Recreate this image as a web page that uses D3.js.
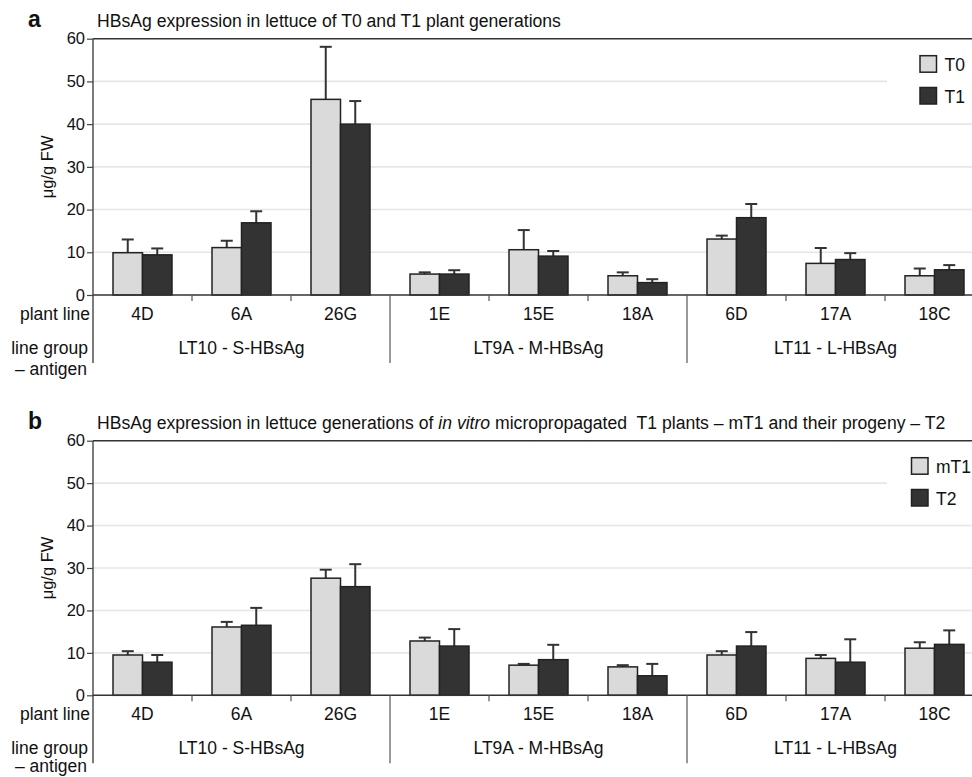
<!DOCTYPE html>
<html>
<head>
<meta charset="utf-8">
<script src="https://cdn.jsdelivr.net/npm/d3@7/dist/d3.min.js"></script>
<style>
  html, body { margin: 0; padding: 0; background: #fff; }
  svg { display: block; font-family: "Liberation Sans", Arial, sans-serif; }
</style>
</head>
<body>
<svg id="chart" width="972" height="777"></svg>
<script>
// ---------- DATA ----------
const plantLines = ["4D", "6A", "26G", "1E", "15E", "18A", "6D", "17A", "18C"];
const lineGroupOf = ["LT10 - S-HBsAg", "LT10 - S-HBsAg", "LT10 - S-HBsAg",
                     "LT9A - M-HBsAg", "LT9A - M-HBsAg", "LT9A - M-HBsAg",
                     "LT11 - L-HBsAg", "LT11 - L-HBsAg", "LT11 - L-HBsAg"];
const yTicks = [0, 10, 20, 30, 40, 50, 60];

// Panel a
const seriesA = ["T0", "T1"];
const t0Values = [9.9, 11.1, 45.8, 4.9, 10.6, 4.5, 13.1, 7.4, 4.5];
const t0Errors = [3.1, 1.6, 12.3, 0.4, 4.6, 0.8, 0.8, 3.6, 1.7];
const t1Values = [9.4, 16.9, 40.0, 4.9, 9.1, 2.9, 18.1, 8.3, 5.9];
const t1Errors = [1.5, 2.7, 5.4, 0.9, 1.2, 0.8, 3.2, 1.5, 1.1];

// Panel b
const seriesB = ["mT1", "T2"];
const mT1Values = [9.5, 16.1, 27.6, 12.8, 7.1, 6.7, 9.5, 8.7, 11.1];
const mT1Errors = [0.9, 1.2, 2.0, 0.8, 0.3, 0.4, 0.9, 0.8, 1.4];
const t2Values  = [7.8, 16.5, 25.6, 11.6, 8.4, 4.6, 11.6, 7.8, 12.0];
const t2Errors  = [1.7, 4.1, 5.3, 4.0, 3.5, 2.8, 3.3, 5.4, 3.3];

const seriesColors = ["#dadada", "#333333"];

// ---------- DRAW ----------
const svg = d3.select("#chart");
const left = 93, right = 984;

function drawPanel(opts) {
  const { top, bottom, letter, titleParts, series, values, errors } = opts;
  const g = svg.append("g");

  const x = d3.scaleBand().domain(plantLines).range([left, right]).paddingInner(0).paddingOuter(0);
  const pad = 20;
  const xs = d3.scaleBand().domain(series).range([pad, x.bandwidth() - pad]).padding(0);
  const y = d3.scaleLinear().domain([0, 60]).range([bottom, top]);

  // letter + title
  g.append("text").attr("x", 28).attr("y", top - 11.5)
    .attr("font-size", 23).attr("font-weight", "bold").attr("fill", "#111").text(letter);
  const title = g.append("text").attr("x", 97).attr("y", top - 11.5)
    .attr("font-size", 17.6).attr("fill", "#111");
  titleParts.forEach(p => {
    title.append("tspan").attr("font-style", p.italic ? "italic" : "normal").text(p.text);
  });

  // gridlines
  g.append("g").selectAll("line").data(yTicks.filter(t => t > 0 && t < 60)).join("line")
    .attr("x1", left).attr("x2", right)
    .attr("y1", d => y(d)).attr("y2", d => y(d))
    .attr("stroke", "#e6e6e6").attr("stroke-width", 1.6);

  // legend mask
  g.append("rect").attr("x", 887).attr("y", top + 7).attr("width", 100).attr("height", 66).attr("fill", "#fff");

  // top frame line
  g.append("line").attr("x1", left).attr("x2", right).attr("y1", y(60)).attr("y2", y(60))
    .attr("stroke", "#333").attr("stroke-width", 1.6);

  // y axis
  const yAxis = d3.axisLeft(y).tickValues(yTicks).tickSize(6).tickPadding(2).tickFormat(d3.format("d"));
  const ya = g.append("g").attr("transform", `translate(${left},0)`).call(yAxis);
  ya.select(".domain").remove();
  ya.selectAll(".tick line").attr("stroke", "#444").attr("stroke-width", 1.2);
  ya.selectAll(".tick text").attr("font-size", 16.5).attr("fill", "#111")
    .attr("font-family", "Liberation Sans, Arial, sans-serif");

  // left axis line continues down into label area
  g.append("line").attr("x1", left).attr("x2", left).attr("y1", top).attr("y2", bottom + 68)
    .attr("stroke", "#444").attr("stroke-width", 1.4);

  // y label
  g.append("text")
    .attr("transform", `translate(53,${(top + bottom) / 2}) rotate(-90)`)
    .attr("text-anchor", "middle").attr("font-size", 16.5).attr("fill", "#111")
    .text("μg/g FW");

  // bars
  const data = [];
  plantLines.forEach((pl, i) => {
    series.forEach((s, j) => {
      data.push({ pl, s, j, v: values[j][i], e: errors[j][i] });
    });
  });

  const bw = xs.bandwidth();
  // error bars
  const eb = g.append("g").selectAll("g").data(data).join("g");
  eb.append("line")
    .attr("x1", d => x(d.pl) + xs(d.s) + bw / 2).attr("x2", d => x(d.pl) + xs(d.s) + bw / 2)
    .attr("y1", d => y(d.v)).attr("y2", d => y(d.v + d.e))
    .attr("stroke", "#333").attr("stroke-width", 2);
  eb.append("line")
    .attr("x1", d => x(d.pl) + xs(d.s) + bw / 2 - 6).attr("x2", d => x(d.pl) + xs(d.s) + bw / 2 + 6)
    .attr("y1", d => y(d.v + d.e)).attr("y2", d => y(d.v + d.e))
    .attr("stroke", "#333").attr("stroke-width", 2);

  g.append("g").selectAll("rect").data(data).join("rect")
    .attr("x", d => x(d.pl) + xs(d.s))
    .attr("y", d => y(d.v))
    .attr("width", bw)
    .attr("height", d => y(0) - y(d.v))
    .attr("fill", d => seriesColors[d.j])
    .attr("stroke", "#222").attr("stroke-width", 1.5);

  // x axis baseline
  g.append("line").attr("x1", left).attr("x2", right).attr("y1", y(0)).attr("y2", y(0))
    .attr("stroke", "#333").attr("stroke-width", 1.6);

  // category ticks & group separators
  const groups = [];
  plantLines.forEach((pl, i) => {
    const grp = lineGroupOf[i];
    if (!groups.length || groups[groups.length - 1].name !== grp) {
      groups.push({ name: grp, start: x(pl), end: x(pl) + x.bandwidth() });
    } else {
      groups[groups.length - 1].end = x(pl) + x.bandwidth();
    }
  });
  plantLines.forEach((pl, i) => {
    if (i === 0) return;
    const isGroupBoundary = lineGroupOf[i] !== lineGroupOf[i - 1];
    g.append("line").attr("x1", x(pl)).attr("x2", x(pl))
      .attr("y1", y(0)).attr("y2", isGroupBoundary ? y(0) + 68 : y(0) + 6)
      .attr("stroke", "#555").attr("stroke-width", 1.2);
  });

  // plant line labels
  g.append("g").selectAll("text").data(plantLines).join("text")
    .attr("x", d => x(d) + x.bandwidth() / 2).attr("y", y(0) + 24.5)
    .attr("text-anchor", "middle").attr("font-size", 17.5).attr("fill", "#111").text(d => d);

  // group labels
  g.append("g").selectAll("text").data(groups).join("text")
    .attr("x", d => (d.start + d.end) / 2).attr("y", y(0) + 58.5)
    .attr("text-anchor", "middle").attr("font-size", 17.5).attr("fill", "#111").text(d => d.name);

  // row headers
  g.append("text").attr("x", 90).attr("y", y(0) + 24.5).attr("text-anchor", "end")
    .attr("font-size", 17.5).attr("fill", "#111").text("plant line");
  g.append("text").attr("x", 88).attr("y", y(0) + 58.5).attr("text-anchor", "end")
    .attr("font-size", 17.5).attr("fill", "#111").text("line group");
  g.append("text").attr("x", 15).attr("y", y(0) + opts.antigenDy).attr("text-anchor", "start")
    .attr("font-size", 17.5).attr("fill", "#111").text("– antigen");

  // legend
  const lg = g.append("g");
  series.forEach((s, j) => {
    const ly = top + 17 + j * 31.8;
    lg.append("rect").attr("x", opts.legendX).attr("y", ly).attr("width", 16.5).attr("height", 16.5)
      .attr("fill", seriesColors[j]).attr("stroke", "#222").attr("stroke-width", 1.5);
    lg.append("text").attr("x", opts.legendX + 24.5).attr("y", ly + 15)
      .attr("font-size", 17.5).attr("fill", "#111").text(s);
  });
}

drawPanel({
  top: 38.7, bottom: 295, letter: "a",
  titleParts: [{ text: "HBsAg expression in lettuce of T0 and T1 plant generations" }],
  series: seriesA, values: [t0Values, t1Values], errors: [t0Errors, t1Errors],
  legendX: 920, antigenDy: 80
});

drawPanel({
  top: 440.7, bottom: 695.3, letter: "b",
  titleParts: [
    { text: "HBsAg expression in lettuce generations of " },
    { text: "in vitro", italic: true },
    { text: " micropropagated\u00a0 T1 plants \u2013 mT1 and their progeny \u2013 T2" }
  ],
  series: seriesB, values: [mT1Values, t2Values], errors: [mT1Errors, t2Errors],
  legendX: 911.5, antigenDy: 77
});
</script>
</body>
</html>
